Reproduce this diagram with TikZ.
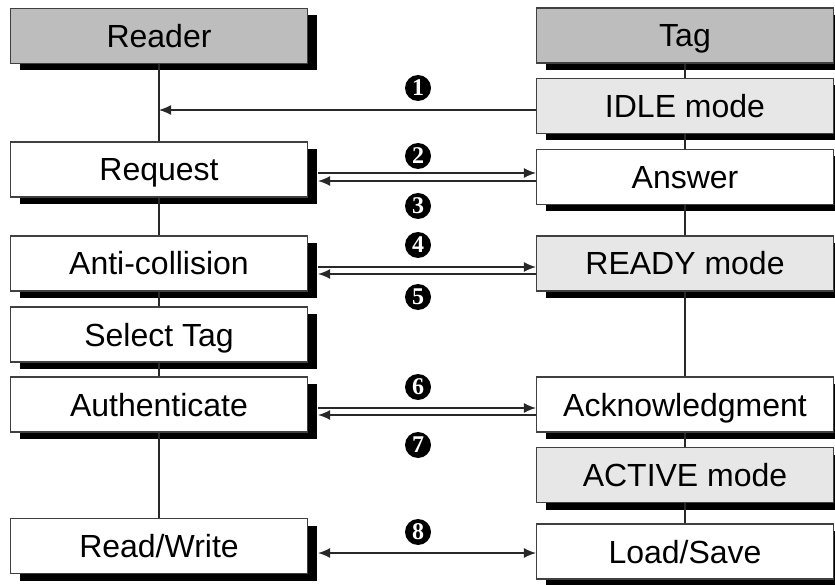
\documentclass[tikz,border=0pt]{standalone}
\usepackage{fontspec}
\setmainfont{Liberation Sans}
\newfontfamily\numfont{Liberation Serif}
\usetikzlibrary{arrows.meta,shadows,calc}
\definecolor{headgray}{RGB}{189,189,189}
\definecolor{modegray}{RGB}{231,231,231}
\definecolor{bordergray}{RGB}{64,64,64}
\definecolor{linegray}{RGB}{40,40,40}
\begin{document}
\begin{tikzpicture}[x=1pt,y=-1pt,
  box/.style={draw=bordergray, line width=1.2pt, minimum width=297pt, minimum height=55pt,
    inner sep=0pt, fill=white, text height=27pt, text depth=4pt,
    font=\fontsize{32}{38}\selectfont,
    drop shadow={shadow xshift=9pt, shadow yshift=-7pt, fill=black, opacity=1}},
  head/.style={box, fill=headgray},
  mode/.style={box, fill=modegray},
  num/.style={circle, fill=black, text=white, inner sep=0pt, minimum size=26pt,
    font=\numfont\bfseries\fontsize{24}{24}\selectfont},
  life/.style={draw=linegray, line width=1.4pt},
  arr/.style={draw=linegray, line width=1.4pt, -{Latex[length=12pt,width=10pt]}},
  arrb/.style={draw=linegray, line width=1.4pt, {Latex[length=12pt,width=10pt]}-{Latex[length=12pt,width=10pt]}},
]
\fill[white] (0,0) rectangle (835,585);
\useasboundingbox (0,0) rectangle (835,585);

% left column
\node[head] (reader) at (159,36) {Reader};
\node[box] (req) at (159,169.5) {Request};
\node[box] (anti) at (159,263.5) {Anti-collision};
\node[box] (sel) at (159,334.5) {Select Tag};
\node[box] (auth) at (159,404.5) {Authenticate};
\node[box] (rw) at (159,546) {Read/Write};

% right column
\node[head] (tag) at (685,35.5) {Tag};
\node[mode] (idle) at (685,106) {IDLE mode};
\node[box] (ans) at (685,177) {Answer};
\node[mode] (ready) at (685,263.5) {READY mode};
\node[box] (ack) at (685,404.5) {Acknowledgment};
\node[mode] (active) at (685,475) {ACTIVE mode};
\node[box] (ls) at (685,551.5) {Load/Save};

% lifelines
\draw[life] (reader.south) -- (req.north);
\draw[life] (req.south) -- (anti.north);
\draw[life] (anti.south) -- (sel.north);
\draw[life] (sel.south) -- (auth.north);
\draw[life] (auth.south) -- (rw.north);
\draw[life] (tag.south) -- (idle.north);
\draw[life] (idle.south) -- (ans.north);
\draw[life] (ans.south) -- (ready.north);
\draw[life] (ready.south) -- (ack.north);
\draw[life] (ack.south) -- (active.north);
\draw[life] (active.south) -- (ls.north);

% messages
\draw[arr] ($(idle.west)+(0,4)$) -- ($(idle.west -| reader.south)+(0,4)$);
\draw[arr] ($(ans.west -| req.east)+(10,-4)$) -- ($(ans.west)+(0,-4)$);
\draw[arr] ($(ans.west)+(0,4)$) -- ($(ans.west -| req.east)+(10,4)$);
\draw[arr] ($(anti.east)+(10,3.5)$) -- ($(ready.west)+(0,3.5)$);
\draw[arr] ($(ready.west)+(0,10.5)$) -- ($(anti.east)+(10,10.5)$);
\draw[arr] ($(auth.east)+(10,3.5)$) -- ($(ack.west)+(0,3.5)$);
\draw[arr] ($(ack.west)+(0,10.5)$) -- ($(auth.east)+(10,10.5)$);
\draw[arrb] ($(ls.west -| rw.east)+(10,1.5)$) -- ($(ls.west)+(0,1.5)$);

% step numbers
\node[num] (n1) at (418,88) {1};
\node[num] (n2) at (418,156) {2};
\node[num] (n3) at (418,206) {3};
\node[num] (n4) at (418,245) {4};
\node[num] (n5) at (418,297) {5};
\node[num] (n6) at (418,387) {6};
\node[num] (n7) at (418,445) {7};
\node[num] (n8) at (418,532) {8};
\end{tikzpicture}
\end{document}
